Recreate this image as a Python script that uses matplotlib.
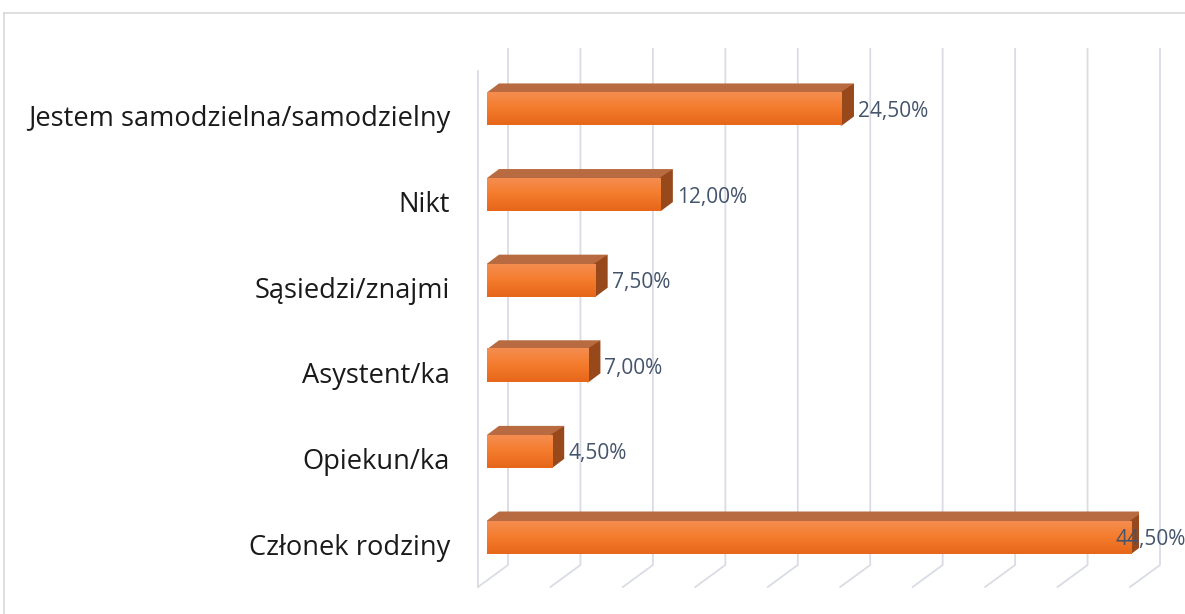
import numpy as np
import matplotlib
matplotlib.use("Agg")
import matplotlib.pyplot as plt
from matplotlib.patches import Polygon
from matplotlib.lines import Line2D
from matplotlib.colors import LinearSegmentedColormap

plt.rcParams['font.family'] = ['Open Sans', 'DejaVu Sans']

categories = ["Członek rodziny", "Opiekun/ka", "Asystent/ka", "Sąsiedzi/znajmi",
              "Nikt", "Jestem samodzielna/samodzielny"]
values = [44.5, 4.5, 7.0, 7.5, 12.0, 24.5]
value_labels = ["44,50%", "4,50%", "7,00%", "7,50%", "12,00%", "24,50%"]
x_max = 45
grid_step = 5

W, H = 1185, 614
fig = plt.figure(figsize=(W / 100, H / 100), dpi=100)

# axes placement (pixels)
left_px, right_px = 487, 487 + 652
ymin, ymax = -0.584, 5.70
ax = fig.add_axes([left_px / W, (H - 587) / H, (right_px - left_px) / W, (587 - 49) / H])
ax.set_xlim(0, x_max)
ax.set_ylim(ymin, ymax)
ax.axis('off')

px_x = x_max / (right_px - left_px)          # data units per pixel (x)
px_y = (ymax - ymin) / (587 - 49)            # data units per pixel (y)

grid_col = "#D9DCE4"
# back-wall gridlines with slanted floor
back_dx = 21 * px_x
front_dx = -9 * px_x
y_back_bottom = ymin + 22 * px_y
for k in range(0, x_max // grid_step + 1):
    xv = k * grid_step
    ax.add_line(Line2D([xv + back_dx, xv + back_dx, xv + front_dx],
                       [ymax, y_back_bottom, ymin], color=grid_col, lw=1.3,
                       clip_on=False, zorder=0.5))
# left edge line
ax.add_line(Line2D([front_dx, front_dx], [ymax - 22 * px_y, ymin], color=grid_col,
                   lw=1.3, clip_on=False, zorder=0.5))

# bars with 3D effect
half = 16.5 * px_y
ddx = 12 * px_x
ddy = 9 * px_y
ov_x = 1.5 * px_x
ov_y = 1.5 * px_y
cmap = LinearSegmentedColormap.from_list("o", ["#E6661A", "#F47B2C", "#F58D50"])
grad = np.linspace(0, 1, 64).reshape(-1, 1)
for i, v in enumerate(values):
    top = Polygon([(0, i + half - ov_y), (v, i + half - ov_y), (v + ddx, i + half + ddy),
                   (ddx, i + half + ddy), (0, i + half)],
                  closed=True, facecolor="#B86A40", edgecolor="none", zorder=3)
    side = Polygon([(v - ov_x, i - half), (v - ov_x, i + half), (v + ddx, i + half + ddy),
                    (v + ddx, i - half + ddy), (v, i - half)],
                   closed=True, facecolor="#97491C", edgecolor="none", zorder=3.2)
    ax.add_patch(top)
    ax.add_patch(side)
    ax.barh(i, v, height=2 * half, left=0, color="#F27A2C", edgecolor="none", zorder=3.5)
    ax.imshow(grad, extent=[0, v, i - half, i + half], origin='lower', cmap=cmap,
              aspect='auto', zorder=4, interpolation='bilinear')
    lx = min(v + 16 * px_x, 43.4)
    ax.text(lx, i - 2.5 * px_y, value_labels[i], ha='left', va='center', fontsize=15,
            color="#44546A", zorder=5, clip_on=False)
    ax.text(-37 * px_x, i - 10.5 * px_y, categories[i], ha='right', va='center',
            fontsize=19.6, color="#1A1A1A", clip_on=False)

ax.set_xlim(0, x_max)
ax.set_ylim(ymin, ymax)

# outer frame (chart area border)
fig.add_artist(Line2D([4 / W, 1.0], [(H - 13) / H, (H - 13) / H], color="#D9D9D9", lw=1.2,
                      transform=fig.transFigure))
fig.add_artist(Line2D([4 / W, 4 / W], [0, (H - 13) / H], color="#D9D9D9", lw=1.2,
                      transform=fig.transFigure))

fig.savefig("out.png", dpi=100)
